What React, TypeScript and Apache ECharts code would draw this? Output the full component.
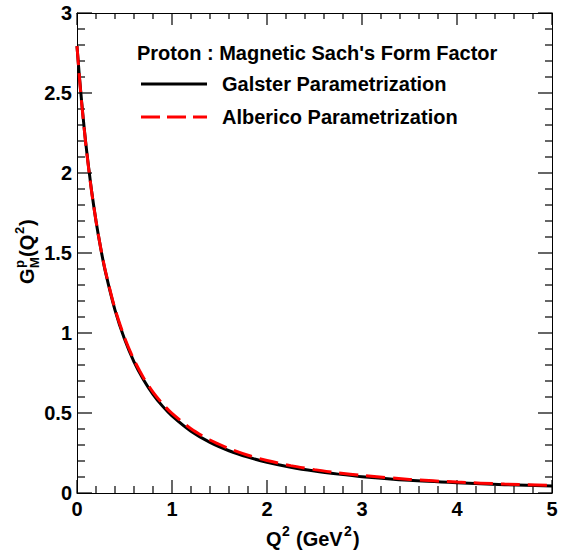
import React, { useEffect, useRef } from "react";
import * as echarts from "echarts";

const q2Values = [0, 0.025, 0.05, 0.075, 0.1, 0.15, 0.2, 0.25, 0.3, 0.4, 0.5, 0.6, 0.7, 0.8, 0.9, 1.0, 1.2, 1.4, 1.6, 1.8, 2.0, 2.25, 2.5, 2.75, 3.0, 3.5, 4.0, 4.5, 5.0];
const galster = [2.793, 2.606, 2.438, 2.285, 2.146, 1.904, 1.7, 1.528, 1.38, 1.143, 0.962, 0.82, 0.708, 0.617, 0.543, 0.482, 0.386, 0.316, 0.264, 0.224, 0.192, 0.161, 0.137, 0.118, 0.102, 0.079, 0.064, 0.052, 0.043];
const alberico = [2.793, 2.6, 2.43, 2.28, 2.14, 1.9, 1.7, 1.53, 1.385, 1.15, 0.972, 0.832, 0.721, 0.631, 0.558, 0.497, 0.402, 0.331, 0.278, 0.236, 0.203, 0.171, 0.146, 0.126, 0.11, 0.085, 0.068, 0.056, 0.047];
const xTickLabels = ["0", "1", "2", "3", "4", "5"];
const yTickLabels = ["0", "0.5", "1", "1.5", "2", "2.5", "3"];
const xMajorTicks = [0, 1, 2, 3, 4, 5];
const xMinorTicks = [0.2, 0.4, 0.6, 0.8, 1.2, 1.4, 1.6, 1.8, 2.2, 2.4, 2.6, 2.8, 3.2, 3.4, 3.6, 3.8, 4.2, 4.4, 4.6, 4.8];
const yMajorTicks = [0, 0.5, 1, 1.5, 2, 2.5, 3];
const yMinorTicks = [0.1, 0.2, 0.3, 0.4, 0.6, 0.7, 0.8, 0.9, 1.1, 1.2, 1.3, 1.4, 1.6, 1.7, 1.8, 1.9, 2.1, 2.2, 2.3, 2.4, 2.6, 2.7, 2.8, 2.9];
const seriesNames = ["Galster Parametrization", "Alberico Parametrization"];
const legendTitle = "Proton : Magnetic Sach's Form Factor";

const FONT = "'Liberation Sans', Arial, Helvetica, sans-serif";

export default function App() {
  const ref = useRef<HTMLDivElement>(null);
  useEffect(() => {
    if (!ref.current) return;
    const chart = echarts.init(ref.current, null, { renderer: "svg" });
    const txt = (text: string, x: number, y: number, size: number) => ({
      type: "text",
      x,
      y,
      style: {
        text,
        fontSize: size,
        fontWeight: "bold",
        fontFamily: FONT,
        fill: "#000",
        verticalAlign: "middle",
      },
    });
    const axisBase = (pos: string, showLabel: boolean, isX: boolean) => ({
      type: "value",
      position: pos,
      min: 0,
      max: isX ? 5 : 3,
      interval: isX ? 1 : 0.5,
      axisLine: { show: true, onZero: false, lineStyle: { color: "#000", width: 1 } },
      axisTick: { show: false },
      minorTick: { show: false },
      splitLine: { show: false },
      splitArea: { show: false },
      axisLabel: {
        show: showLabel,
        margin: isX ? 6 : 5,
        fontSize: 20,
        fontWeight: "bold",
        fontFamily: FONT,
        color: "#000",
        formatter: (v: number) => {
          const arr = isX ? xTickLabels : yTickLabels;
          const idx = Math.round(isX ? v : v * 2);
          return arr[idx] ?? String(v);
        },
      },
    });
    const tickStyle = { stroke: "#000", lineWidth: 1.2 };
    chart.setOption({
      animation: false,
      backgroundColor: "#fff",
      grid: { left: 77, right: 9, top: 13, bottom: 63, show: false },
      xAxis: [axisBase("bottom", true, true), axisBase("top", false, true)],
      yAxis: [axisBase("left", true, false), axisBase("right", false, false)],
      series: [
        {
          type: "custom",
          silent: true,
          clip: false,
          z: 5,
          data: [...xMajorTicks.map((v) => [v, 1]), ...xMinorTicks.map((v) => [v, 0])],
          renderItem: (params: any, api: any) => {
            const v = api.value(0);
            const major = api.value(1) === 1;
            const b = api.coord([v, 0]);
            const t = api.coord([v, 3]);
            const lb = major ? 13 : 7;
            const lt = major ? 12 : 6;
            return {
              type: "group",
              children: [
                { type: "line", shape: { x1: b[0], y1: b[1], x2: b[0], y2: b[1] - lb }, style: tickStyle },
                { type: "line", shape: { x1: t[0], y1: t[1], x2: t[0], y2: t[1] + lt }, style: tickStyle },
              ],
            };
          },
        },
        {
          type: "custom",
          silent: true,
          clip: false,
          z: 5,
          data: [...yMajorTicks.map((v) => [v, 1]), ...yMinorTicks.map((v) => [v, 0])],
          renderItem: (params: any, api: any) => {
            const v = api.value(0);
            const major = api.value(1) === 1;
            const l = api.coord([0, v]);
            const r = api.coord([5, v]);
            const ll = major ? 15 : 8;
            const lr = major ? 14 : 7;
            return {
              type: "group",
              children: [
                { type: "line", shape: { x1: l[0], y1: l[1], x2: l[0] + ll, y2: l[1] }, style: tickStyle },
                { type: "line", shape: { x1: r[0], y1: r[1], x2: r[0] - lr, y2: r[1] }, style: tickStyle },
              ],
            };
          },
        },
        {
          name: seriesNames[0],
          type: "line",
          data: q2Values.map((q, i) => [q, galster[i]]),
          showSymbol: false,
          symbol: "none",
          smooth: 0.25,
          lineStyle: { color: "#000", width: 3, type: "solid" },
          z: 6,
        },
        {
          name: seriesNames[1],
          type: "line",
          data: q2Values.map((q, i) => [q, alberico[i]]),
          showSymbol: false,
          symbol: "none",
          smooth: 0.25,
          lineStyle: { color: "#ff0000", width: 3, type: [19, 8] },
          z: 7,
        },
      ],
      graphic: [
        txt(legendTitle, 137, 53, 20),
        {
          type: "line",
          shape: { x1: 141, y1: 84, x2: 207, y2: 84 },
          style: { stroke: "#000", lineWidth: 3 },
        },
        txt(seriesNames[0], 222, 84, 20),
        {
          type: "line",
          shape: { x1: 141, y1: 117, x2: 207, y2: 117 },
          style: { stroke: "#ff0000", lineWidth: 3, lineDash: [19, 7] },
        },
        txt(seriesNames[1], 222, 117, 20),
        {
          type: "group",
          x: 27,
          y: 284,
          rotation: Math.PI / 2,
          children: [
            txt("G", 0, 0, 20),
            txt("p", 16, -8, 13),
            txt("M", 16, 7, 13),
            txt("(Q", 27, 0, 20),
            txt("2", 50, -8, 13),
            txt(")", 58, 0, 20),
          ],
        },
        {
          type: "group",
          x: 266,
          y: 539,
          children: [
            txt("Q", 0, 0, 20),
            txt("2", 16, -8, 14),
            txt("(GeV", 30, 0, 20),
            txt("2", 78, -8, 14),
            txt(")", 87, 0, 20),
          ],
        },
      ],
    });
    return () => chart.dispose();
  }, []);
  return (
    <div
      ref={ref}
      style={{ position: "absolute", left: 0, top: 0, width: 561, height: 556, background: "#fff" }}
    />
  );
}
